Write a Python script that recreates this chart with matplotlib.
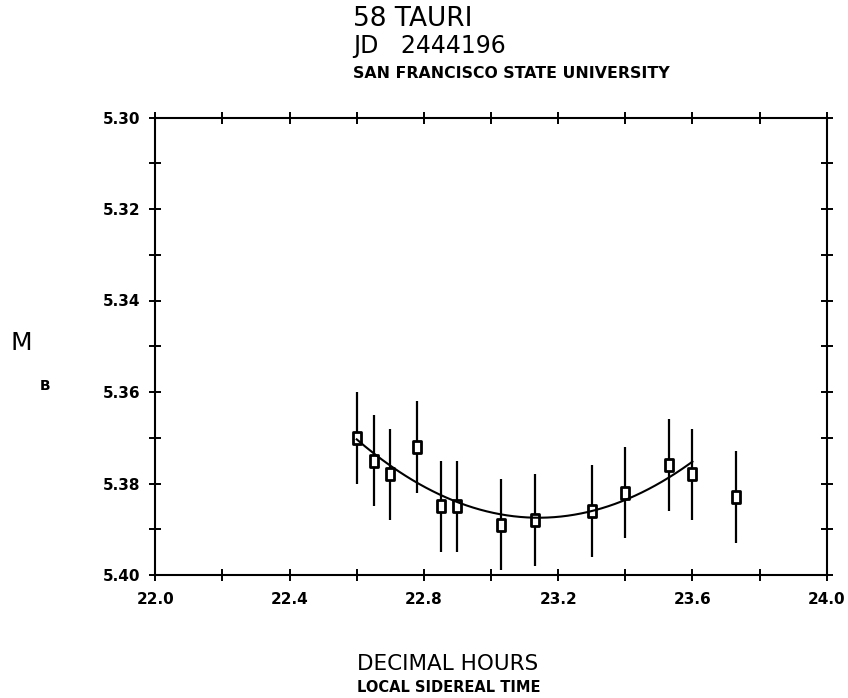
import numpy as np
import matplotlib
matplotlib.use('Agg')
import matplotlib.pyplot as plt
from matplotlib.path import Path
from matplotlib.ticker import MultipleLocator, FormatStrFormatter

# 58 Tauri photometry, JD 2444196
hours = [22.60, 22.65, 22.70, 22.78, 22.85, 22.90, 23.03, 23.13, 23.30, 23.40, 23.53, 23.60, 23.73]
mag = [5.370, 5.375, 5.378, 5.372, 5.385, 5.385, 5.389, 5.388, 5.386, 5.382, 5.376, 5.378, 5.383]
err = [0.010] * 13
n_fit = 12   # last point left out of the fit

W, H = 848, 698
fig = plt.figure(figsize=(W / 100, H / 100), dpi=100)
ax = fig.add_axes([155.3 / W, 1 - 575 / H, 671.4 / W, 457.5 / H])

# tall open rectangle marker
box = Path([(-0.33, -0.5), (0.33, -0.5), (0.33, 0.5), (-0.33, 0.5), (-0.33, -0.5)],
           [Path.MOVETO, Path.LINETO, Path.LINETO, Path.LINETO, Path.CLOSEPOLY])

ax.errorbar(hours, mag, yerr=err, fmt='none', ecolor='black', elinewidth=1.6, capsize=0)
ax.plot(hours, mag, linestyle='none', marker=box, markersize=8.5, markerfacecolor='white',
        markeredgecolor='black', markeredgewidth=2.0)

# quadratic fit through the data
coef = np.polyfit(hours[:n_fit], mag[:n_fit], 2)
xs = np.linspace(hours[0], hours[n_fit - 1], 200)
ax.plot(xs, np.polyval(coef, xs), color='black', lw=1.5)

ax.set_xlim(22.0, 24.0)
ax.set_ylim(5.40, 5.30)
ax.xaxis.set_major_locator(MultipleLocator(0.4))
ax.xaxis.set_minor_locator(MultipleLocator(0.2))
ax.yaxis.set_major_locator(MultipleLocator(0.02))
ax.yaxis.set_minor_locator(MultipleLocator(0.01))
ax.xaxis.set_major_formatter(FormatStrFormatter('%.1f'))
ax.yaxis.set_major_formatter(FormatStrFormatter('%.2f'))
ax.tick_params(which='both', direction='inout', length=9, width=1.4, top=True, right=True,
               labelsize=11, pad=6)
ax.tick_params(axis='x', which='major', pad=8)
for lab in ax.get_xticklabels() + ax.get_yticklabels():
    lab.set_fontweight('bold')
for s in ax.spines.values():
    s.set_linewidth(1.5)

# header and axis titles
fig.text(353 / W, 1 - 19 / H, '58 TAURI', fontsize=19, va='center', ha='left')
fig.text(353 / W, 1 - 46 / H, 'JD   2444196', fontsize=17, va='center', ha='left')
fig.text(353 / W, 1 - 73 / H, 'SAN FRANCISCO STATE UNIVERSITY', fontsize=11.3, fontweight='bold',
         va='center', ha='left')
fig.text(21 / W, 1 - 343 / H, 'M', fontsize=18, va='center', ha='center')
fig.text(45 / W, 1 - 386 / H, 'B', fontsize=10, fontweight='bold', va='center', ha='center')
fig.text(357 / W, 1 - 664 / H, 'DECIMAL HOURS', fontsize=15.5, va='center', ha='left')
fig.text(357 / W, 1 - 688 / H, 'LOCAL SIDEREAL TIME', fontsize=10.5, fontweight='bold',
         va='center', ha='left')

fig.savefig('out.png', dpi=100)
